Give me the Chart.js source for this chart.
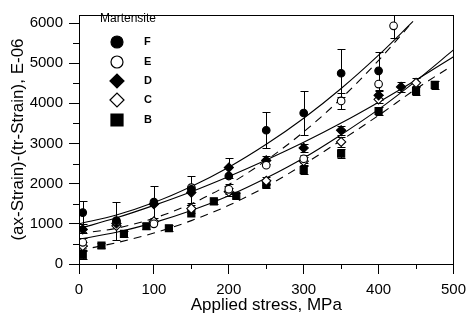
<!DOCTYPE html>
<html>
<head>
<meta charset="utf-8">
<script src="https://cdn.jsdelivr.net/npm/chart.js@4/dist/chart.umd.min.js"></script>
<style>
html, body { margin: 0; padding: 0; background: #fff; }
</style>
</head>
<body>
<canvas id="chart" width="473" height="320"></canvas>
<script>
// measured points, martensite grades F..B
var stressF = [5, 50, 100, 150, 200, 250, 300, 350, 400];
var strainF = [1280, 1080, 1540, 1860, 2190, 3330, 3760, 4750, 4810];
var errF    = [290, 470, 390, 330, 0, 450, 560, 600, 470];

var stressE = [5, 50, 100, 150, 200, 250, 300, 350, 400, 420];
var strainE = [540, 1050, 1000, 1900, 1860, 2460, 2620, 4060, 4480, 5930];
var errE    = [100, 0, 0, 0, 120, 0, 100, 190, 0, 300];

var stressD = [5, 50, 100, 150, 200, 250, 300, 350, 400, 430];
var strainD = [860, 1010, 1490, 1780, 2400, 2580, 2890, 3330, 4200, 4410];
var errD    = [90, 0, 0, 0, 250, 100, 100, 110, 120, 130];

var stressC = [5, 50, 100, 150, 200, 250, 300, 350, 400, 450];
var strainC = [450, 950, 1060, 1380, 1800, 2070, 2560, 3040, 4100, 4510];
var errC    = [100, 0, 0, 100, 100, 100, 100, 120, 100, 110];

var stressB = [5, 30, 60, 90, 120, 150, 180, 210, 250, 300, 350, 400, 450, 475];
var strainB = [220, 460, 750, 940, 890, 1260, 1560, 1700, 1980, 2340, 2750, 3810, 4310, 4460];
var errB    = [100, 60, 70, 70, 80, 0, 60, 70, 100, 110, 110, 110, 110, 100];

// fitted curves
var fitStress   = [0, 50, 100, 150, 200, 250, 300, 350, 400, 450, 500];
var fitStressF  = [0, 50, 100, 150, 200, 250, 300, 350, 400, 446];
var fitF        = [1000, 1220, 1530, 1930, 2410, 2980, 3630, 4370, 5200, 6040];
var fitStressE  = [0, 50, 100, 150, 200, 250, 300, 350, 400, 445];
var fitE        = [760, 890, 1140, 1500, 1980, 2580, 3290, 4120, 5070, 6020];
var fitD        = [880, 1150, 1460, 1800, 2180, 2590, 3030, 3510, 4030, 4580, 5160];
var fitC        = [620, 790, 1030, 1330, 1700, 2140, 2640, 3220, 3850, 4560, 5330];
var fitStressB  = [0, 50, 100, 150, 200, 250, 300, 350, 400, 450, 495];
var fitB        = [340, 530, 770, 1080, 1460, 1930, 2480, 3080, 3700, 4360, 4900];

var legendNames = ['F', 'E', 'D', 'C', 'B'];
var xTicks = [0, 100, 200, 300, 400, 500];
var yTicks = [0, 1000, 2000, 3000, 4000, 5000, 6000];

var FONT = '"Liberation Sans", Arial, Helvetica, sans-serif';

function pairs(xs, ys) {
    var out = [];
    for (var i = 0; i < xs.length; i++) {
        out.push({x: xs[i], y: ys[i]});
    }
    return out;
}

function pointSet(xs, ys, errs, style, fill, radius) {
    return {
        data: pairs(xs, ys),
        errors: errs,
        showLine: false,
        pointStyle: style,
        pointRadius: radius,
        pointBackgroundColor: fill,
        pointBorderColor: '#000',
        pointBorderWidth: 1.1
    };
}

function curveSet(xs, ys, dashed) {
    return {
        data: pairs(xs, ys),
        showLine: true,
        pointRadius: 0,
        borderColor: '#000',
        borderWidth: 1.1,
        borderDash: dashed ? [8, 6] : [],
        cubicInterpolationMode: 'monotone',
        fill: false
    };
}

// error bars, drawn under the markers
var errorBars = {
    id: 'errorBars',
    beforeDatasetsDraw: function(chart) {
        var ctx = chart.ctx;
        var xs = chart.scales.x, ys = chart.scales.y;
        ctx.save();
        ctx.strokeStyle = '#000';
        ctx.lineWidth = 1;
        chart.data.datasets.forEach(function(ds) {
            if (!ds.errors) return;
            ds.data.forEach(function(p, i) {
                var e = ds.errors[i];
                if (!e) return;
                var px = Math.round(xs.getPixelForValue(p.x)) + 0.5;
                var top = Math.round(ys.getPixelForValue(Math.min(p.y + e, ys.max))) + 0.5;
                var bot = Math.round(ys.getPixelForValue(p.y - e)) + 0.5;
                ctx.beginPath();
                ctx.moveTo(px, top); ctx.lineTo(px, bot);
                ctx.moveTo(px - 4, top); ctx.lineTo(px + 4, top);
                ctx.moveTo(px - 4, bot); ctx.lineTo(px + 4, bot);
                ctx.stroke();
            });
        });
        ctx.restore();
    }
};

// frame, minor ticks and the legend box
var decorations = {
    id: 'decorations',
    afterDraw: function(chart) {
        var ctx = chart.ctx;
        var a = chart.chartArea;
        var xs = chart.scales.x, ys = chart.scales.y;
        ctx.save();
        ctx.strokeStyle = '#000';
        ctx.lineWidth = 1;
        ctx.strokeRect(Math.round(a.left) + 0.5, Math.round(a.top) + 0.5,
                       Math.round(a.right - a.left), Math.round(a.bottom - a.top));

        ctx.beginPath();
        for (var v = 50; v < 500; v += 100) {
            var px = Math.round(xs.getPixelForValue(v)) + 0.5;
            ctx.moveTo(px, a.bottom); ctx.lineTo(px, a.bottom + 5);
        }
        for (var w = 500; w < 6200; w += 1000) {
            var py = Math.round(ys.getPixelForValue(w)) + 0.5;
            ctx.moveTo(a.left, py); ctx.lineTo(a.left - 6, py);
        }
        ctx.stroke();

        // legend
        ctx.fillStyle = '#000';
        ctx.font = '12px ' + FONT;
        ctx.textBaseline = 'middle';
        ctx.textAlign = 'left';
        ctx.fillText('Martensite', 100, 19);
        var rows = [42, 62, 81, 100, 120];
        var styles = [
            {pointStyle: 'circle', radius: 6, fill: '#000'},
            {pointStyle: 'circle', radius: 6, fill: '#fff'},
            {pointStyle: 'rectRot', radius: 7, fill: '#000'},
            {pointStyle: 'rectRot', radius: 7, fill: '#fff'},
            {pointStyle: 'rect', radius: 8.5, fill: '#000'}
        ];
        ctx.font = 'bold 11px ' + FONT;
        for (var i = 0; i < legendNames.length; i++) {
            ctx.fillStyle = styles[i].fill;
            ctx.strokeStyle = '#000';
            ctx.lineWidth = 1.2;
            Chart.helpers.drawPoint(ctx, {pointStyle: styles[i].pointStyle, radius: styles[i].radius, borderWidth: 1.2}, 117, rows[i]);
            ctx.fillStyle = '#000';
            ctx.fillText(legendNames[i], 144, rows[i]);
        }
        ctx.restore();
    }
};

var datasets = [
    pointSet(stressF, strainF, errF, 'circle', '#000', 3.8),
    pointSet(stressE, strainE, errE, 'circle', '#fff', 3.8),
    pointSet(stressD, strainD, errD, 'rectRot', '#000', 4.6),
    pointSet(stressC, strainC, errC, 'rectRot', '#fff', 4.6),
    pointSet(stressB, strainB, errB, 'rect', '#000', 5),
    curveSet(fitStressF, fitF, false),
    curveSet(fitStressE, fitE, true),
    curveSet(fitStress, fitD, false),
    curveSet(fitStress, fitC, false),
    curveSet(fitStressB, fitB, true)
];

function plainLabel(value) {
    return String(value);
}

new Chart(document.getElementById('chart'), {
    type: 'scatter',
    data: { datasets: datasets },
    options: {
        responsive: false,
        animation: false,
        devicePixelRatio: 1,
        layout: { padding: { top: 7, right: 12, left: 0, bottom: 0 } },
        plugins: { legend: { display: false }, tooltip: { enabled: false } },
        scales: {
            x: {
                type: 'linear',
                min: 0, max: 500,
                afterBuildTicks: function(scale) {
                    scale.ticks = xTicks.map(function(v) { return {value: v}; });
                },
                afterFit: function(scale) { scale.height = 56; },
                grid: { drawOnChartArea: false, color: '#000', tickLength: 10 },
                border: { color: '#000', width: 1 },
                ticks: { color: '#000', padding: 7, maxRotation: 0, callback: plainLabel,
                         font: { family: FONT, size: 15 } },
                title: { display: true, text: 'Applied stress, MPa', color: '#000',
                         padding: { top: 0, bottom: 4 }, font: { family: FONT, size: 17 } }
            },
            y: {
                type: 'linear',
                min: 0, max: 6200,
                afterBuildTicks: function(scale) {
                    scale.ticks = yTicks.map(function(v) { return {value: v}; });
                },
                afterFit: function(scale) { scale.width = 79; },
                grid: { drawOnChartArea: false, color: '#000', tickLength: 10 },
                border: { color: '#000', width: 1 },
                ticks: { color: '#000', padding: 6, callback: plainLabel,
                         font: { family: FONT, size: 15 } },
                title: { display: true, text: '(ax-Strain)-(tr-Strain), E-06', color: '#000',
                         padding: { top: 8, bottom: 0 }, font: { family: FONT, size: 17 } }
            }
        }
    },
    plugins: [errorBars, decorations]
});
</script>
</body>
</html>
